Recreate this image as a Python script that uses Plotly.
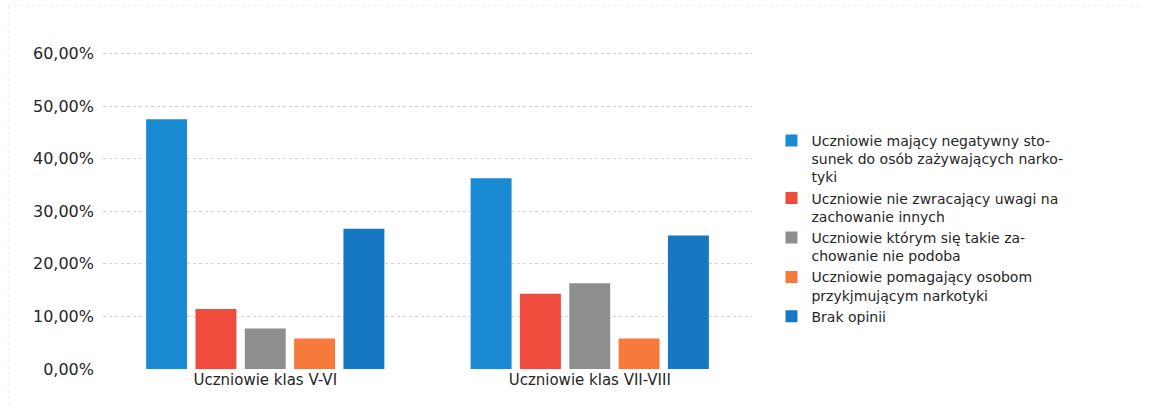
import plotly.graph_objects as go

categories = ["Uczniowie klas V-VI", "Uczniowie klas VII-VIII"]

series_names = [
    "Uczniowie mający negatywny sto-<br>sunek do osób zażywających narko-<br>tyki",
    "Uczniowie nie zwracający uwagi na<br>zachowanie innych",
    "Uczniowie którym się takie za-<br>chowanie nie podoba",
    "Uczniowie pomagający osobom<br>przykjmującym narkotyki",
    "Brak opinii",
]

negatywny = [0.475, 0.363]
nie_zwracajacy = [0.114, 0.143]
nie_podoba = [0.077, 0.163]
pomagajacy = [0.058, 0.058]
brak_opinii = [0.267, 0.254]

series_values = [negatywny, nie_zwracajacy, nie_podoba, pomagajacy, brak_opinii]
series_colors = ["#1a8ad2", "#f04c3e", "#8e8e8e", "#f57a3c", "#1677c2"]

tick_vals = [0, 0.1, 0.2, 0.3, 0.4, 0.5, 0.6]
tick_text = ["0,00%", "10,00%", "20,00%", "30,00%", "40,00%", "50,00%", "60,00%"]

fig = go.Figure()
for name, vals, color in zip(series_names, series_values, series_colors):
    fig.add_trace(go.Bar(
        x=categories,
        y=vals,
        name=name,
        marker=dict(color=color, line=dict(width=0)),
    ))

# faint outer frame of the chart box (top and left edges)
frame = dict(color="#ebebeb", width=1, dash="dot")
fig.add_shape(type="line", xref="paper", yref="paper",
              x0=-0.146, x1=1.6, y0=1.146, y1=1.146, line=frame)
fig.add_shape(type="line", xref="paper", yref="paper",
              x0=-0.146, x1=-0.146, y0=1.146, y1=-0.12, line=frame)

fig.update_layout(
    width=1159,
    height=412,
    margin=dict(l=103, r=407, t=52, b=43),
    paper_bgcolor="white",
    plot_bgcolor="white",
    barmode="group",
    bargap=0.24,
    bargroupgap=0.17,
    font=dict(family="DejaVu Sans", color="#262626"),
    legend=dict(
        x=1.03,
        y=0.77,
        xanchor="left",
        yanchor="top",
        valign="top",
        font=dict(size=14, color="#262626"),
        tracegroupgap=0,
        itemwidth=30,
        bgcolor="rgba(0,0,0,0)",
    ),
    showlegend=True,
)

fig.update_xaxes(
    showgrid=False,
    showline=False,
    ticks="",
    tickfont=dict(size=15, color="#262626"),
)

fig.update_yaxes(
    range=[0, 0.603],
    tickvals=tick_vals,
    ticktext=tick_text,
    showgrid=True,
    gridcolor="#d2d2d2",
    gridwidth=1,
    griddash="dot",
    zeroline=False,
    showline=False,
    ticks="",
    ticklabelstandoff=8,
    tickfont=dict(size=16, color="#262626"),
)

fig.write_html("out.html")
